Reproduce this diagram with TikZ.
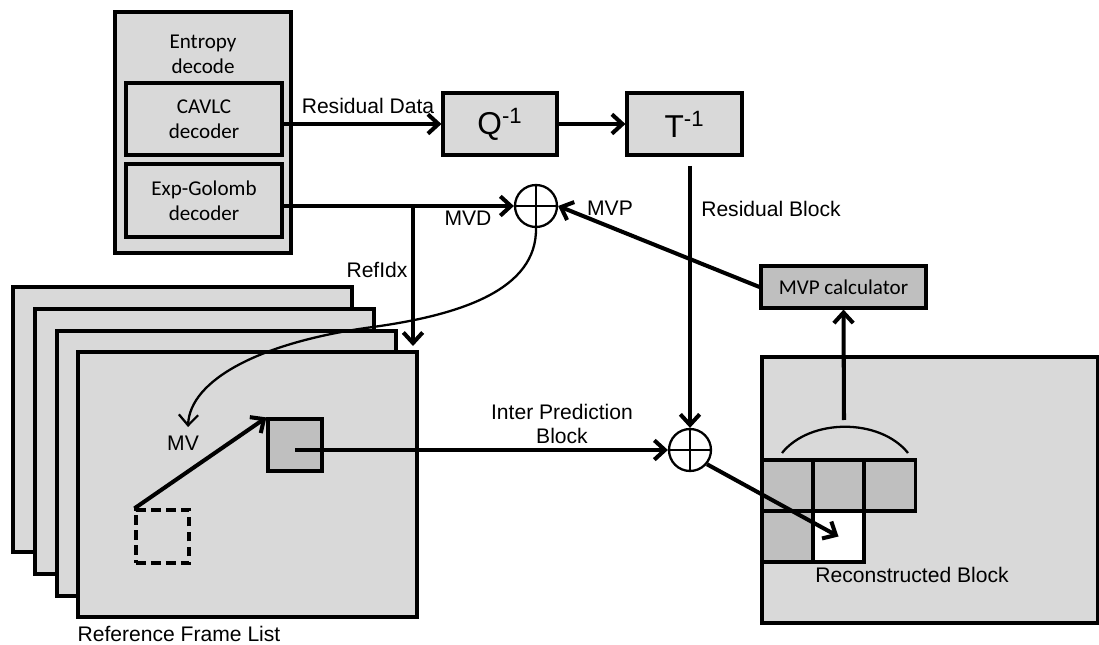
\documentclass[tikz,border=0pt]{standalone}
\usepackage{fontspec}
\setmainfont{Liberation Sans}
\newfontfamily\carlito{Carlito}
\usetikzlibrary{arrows.meta}
\definecolor{mylightgray}{RGB}{217,217,217}
\definecolor{mydarkgray}{RGB}{191,191,191}

\begin{document}
\begin{tikzpicture}[x=0.02cm,y=-0.02cm,line width=1.8pt,
  >={Straight Barb[length=6pt,width=11pt]},
  conn/.style={->,line width=2.3pt},
  lbl/.style={font=\fontsize{12}{14}\selectfont,inner sep=1pt},
  box/.style={draw,fill=mylightgray,inner sep=0pt,align=center,font=\carlito\fontsize{12}{14.2}\selectfont},
  opbox/.style={draw,fill=mylightgray,inner sep=0pt,minimum width=2.3cm,minimum height=1.24cm,font=\fontsize{18}{20}\selectfont},
  refframe/.style={draw,fill=mylightgray,minimum width=6.78cm,minimum height=5.3cm},
  cell/.style={draw,fill=mydarkgray,minimum size=1.02cm,inner sep=0pt},
  adder/.style={draw,circle,minimum size=0.84cm,inner sep=0pt,line width=1.3pt,
    path picture={\draw[line width=1.3pt] (path picture bounding box.north) -- (path picture bounding box.south)
      (path picture bounding box.west) -- (path picture bounding box.east);}}]
  \useasboundingbox[fill=white] (0,0) rectangle (1099,645);

  \node[box,minimum width=3.52cm,minimum height=4.82cm] (entropy) at (203,132.5) {};
  \node[font=\carlito\fontsize{12}{14.2}\selectfont,align=center] (entropylbl) at (203,54) {Entropy\\decode};
  \node[box,minimum width=3.12cm,minimum height=1.44cm] (cavlc) at (204,119) {CAVLC\\decoder};
  \node[box,minimum width=3.12cm,minimum height=1.46cm] (expg) at (204,200.5) {Exp-Golomb\\decoder};

  \node[opbox,minimum width=2.28cm] (iq) at (500,124) {Q\textsuperscript{-1}};
  \node[opbox] (it) at (684.5,124) {T\textsuperscript{-1}};

  \node[adder] (add1) at (536,206) {};
  \node[adder] (add2) at (690,450) {};

  \foreach \i/\cx/\cy in {1/182.5/419.5, 2/204.5/441.5, 3/226.5/463.5}
    \node[refframe] (frame\i) at (\cx,\cy) {};
  \node[refframe] (front) at (247.5,484.5) {};
  \node[draw,fill=mydarkgray,minimum width=1.08cm,minimum height=1.04cm] (curblk) at (295,445) {};
  \node[draw,dash pattern=on 5.5pt off 3pt,minimum size=1.06cm,inner sep=0pt] (refblk) at (162.5,536.5) {};
  \node[lbl] (mvlbl) at (183,443) {MV};
  \node[lbl] (reflist) at (179,634) {Reference Frame List};

  \node[draw,fill=mylightgray,minimum width=6.72cm,minimum height=5.32cm] (recframe) at (930,490) {};
  \node[box,fill=mydarkgray,minimum width=3.3cm,minimum height=0.84cm] (mvpc) at (843.5,287) {MVP calculator};
  \node[cell] (c1) at (788,485.5) {};
  \node[cell] (c2) at (838.5,485.5) {};
  \node[cell] (c3) at (890,485.5) {};
  \node[cell] (c4) at (788,536.5) {};
  \node[cell,fill=white] (c5) at (838.5,536.5) {};
  \node[lbl] (reclbl) at (912,575) {Reconstructed Block};

  \coordinate (split) at (413,206);
  \coordinate (refin) at (413,346);
  \coordinate (mvtip) at (188,427);
  \coordinate (rbtop) at (690,166);
  \coordinate (arcl) at (782,453);
  \coordinate (arcr) at (908,453);
  \coordinate (arctop) at (844,420);

  \draw[conn] (cavlc.east |- iq.west) -- (iq.west);
  \draw[conn] (iq.east) -- (it.west);
  \draw[conn] (expg.east |- add1.west) -- (add1.west);
  \draw[conn] (split) -- (refin);
  \draw[conn] (mvpc.west) -- (add1.east);
  \draw[->,line width=1.3pt] (add1.south) .. controls (537,290) and (460,315) .. (373,327)
    .. controls (260,342) and (190,380) .. (mvtip);
  \draw[conn] (refblk.north west) -- (curblk.north west);
  \draw[conn] (curblk.center |- add2.west) -- (add2.west);
  \draw[conn] (rbtop) -- (add2.north);
  \draw[conn] (add2.-40) -- (c5.center);
  \draw[line width=1.3pt] (arcl) .. controls (810,418) and (880,418) .. (arcr);
  \draw[conn] (arctop) -- (mvpc.south);

  \node[lbl] (resdata) at (368,106) {Residual Data};
  \node[lbl] (mvdlbl) at (468,218) {MVD};
  \node[lbl] (mvplbl) at (610,208) {MVP};
  \node[lbl] (refidx) at (377,270) {RefIdx};
  \node[lbl] (resblk) at (771,209) {Residual Block};
  \node[lbl,align=center] (interlbl) at (562,424) {Inter Prediction\\Block};
\end{tikzpicture}
\end{document}
